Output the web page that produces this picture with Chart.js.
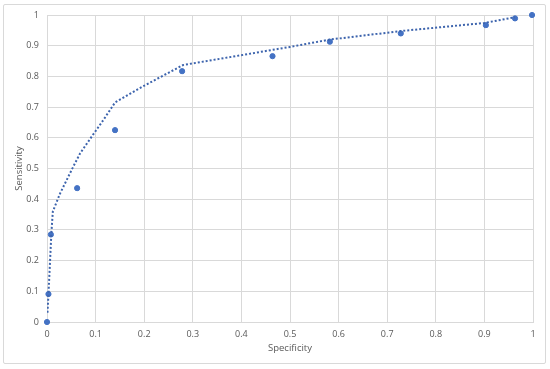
<!DOCTYPE html>
<html>
<head>
<meta charset="utf-8">
<script src="https://cdn.jsdelivr.net/npm/chart.js@4/dist/chart.umd.min.js"></script>
<style>
  html, body { margin: 0; padding: 0; background: #ffffff; }
  #wrap { position: relative; width: 550px; height: 369px; }
  #frame { position: absolute; left: 3px; top: 4px; width: 543px; height: 360px; border: 1px solid #d9d9d9; border-radius: 2px; box-sizing: border-box; }
  canvas { position: absolute; left: 0; top: 0; }
</style>
</head>
<body>
<div id="wrap">
  <div id="frame"></div>
  <canvas id="c" width="550" height="369"></canvas>
</div>
<script>
const specificity = [0, 0.003, 0.008, 0.062, 0.14, 0.278, 0.464, 0.582, 0.728, 0.903, 0.963, 0.998];
const sensitivity = [0, 0.091, 0.285, 0.436, 0.625, 0.817, 0.866, 0.913, 0.940, 0.967, 0.989, 1.0];
const trendX = [0.001, 0.003, 0.009, 0.012, 0.027, 0.054, 0.068, 0.092, 0.116, 0.14, 0.198, 0.28, 0.5, 0.582, 0.73, 0.9, 0.963];
const trendY = [0.03, 0.09, 0.29, 0.36, 0.419, 0.506, 0.549, 0.604, 0.658, 0.715, 0.768, 0.837, 0.896, 0.92, 0.948, 0.974, 0.993];
const tickValues = [0, 0.1, 0.2, 0.3, 0.4, 0.5, 0.6, 0.7, 0.8, 0.9, 1];

const pts = specificity.map((x, i) => ({ x: x, y: sensitivity[i] }));
const trend = trendX.map((x, i) => ({ x: x, y: trendY[i] }));

const tickFont = { family: "'Open Sans', 'Liberation Sans', sans-serif", size: 9 };
const titleFont = { family: "'Open Sans', 'Liberation Sans', sans-serif", size: 9.5 };
const fmt = v => String(Math.round(v * 10) / 10);

new Chart(document.getElementById('c'), {
  type: 'scatter',
  data: {
    datasets: [
      {
        type: 'line',
        data: trend,
        borderColor: '#3d64ad',
        borderWidth: 2,
        borderDash: [2, 2],
        borderCapStyle: 'butt',
        pointRadius: 0,
        fill: false,
        tension: 0
      },
      {
        data: pts,
        clip: false,
        backgroundColor: '#4472c4',
        borderColor: '#4472c4',
        pointRadius: 2.6,
        pointHoverRadius: 2.6
      }
    ]
  },
  options: {
    responsive: false,
    animation: false,
    devicePixelRatio: 1,
    layout: { padding: { left: 0, top: 15, right: 17, bottom: 0 } },
    plugins: { legend: { display: false }, tooltip: { enabled: false } },
    scales: {
      x: {
        type: 'linear', min: 0, max: 1,
        afterBuildTicks: s => { s.ticks = tickValues.map(v => ({ value: v })); },
        afterFit: s => { s.height = 47; },
        grid: { color: '#d9d9d9', lineWidth: 1, drawTicks: false },
        border: { color: '#d9d9d9' },
        ticks: { color: '#595959', font: tickFont, padding: 7, maxRotation: 0, callback: fmt },
        title: { display: true, text: 'Specificity', color: '#595959', font: titleFont, padding: { top: 0, bottom: 15 } }
      },
      y: {
        type: 'linear', min: 0, max: 1,
        afterBuildTicks: s => { s.ticks = tickValues.map(v => ({ value: v })); },
        afterFit: s => { s.width = 47; },
        grid: { color: '#d9d9d9', lineWidth: 1, drawTicks: false },
        border: { color: '#d9d9d9' },
        ticks: { color: '#595959', font: tickFont, padding: 8, callback: fmt },
        title: { display: true, text: 'Sensitivity', color: '#595959', font: titleFont, padding: { top: 14, bottom: 0 } }
      }
    }
  }
});
</script>
</body>
</html>
